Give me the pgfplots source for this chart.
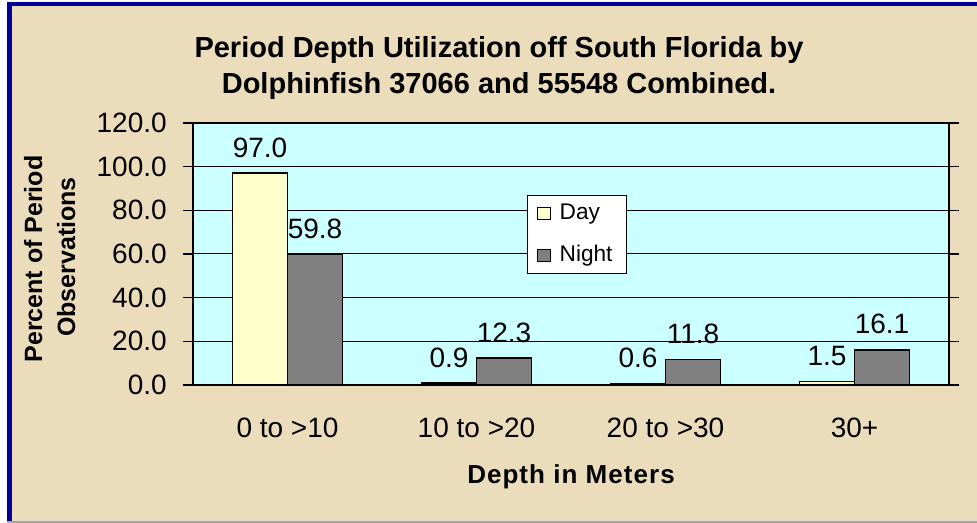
\documentclass[border=0pt]{standalone}
\usepackage{pgfplots}
\pgfplotsset{compat=1.18}
\usepackage{fontspec}
\setmainfont{Liberation Sans}
\definecolor{parch}{RGB}{235,221,187}
\definecolor{frameblue}{RGB}{0,0,150}
\definecolor{plotbg}{RGB}{204,255,255}
\definecolor{dayc}{RGB}{255,255,204}
\definecolor{nightc}{RGB}{128,128,128}
\begin{document}
\begin{tikzpicture}[x=0.75pt,y=-0.75pt]
\fill[white] (0,0) rectangle (977,523);
\fill[parch] (7,2) rectangle (977,521);
\fill[frameblue] (7,2) rectangle (977,6.5);
\fill[frameblue] (7,2) rectangle (11.5,521);
\fill[black!35] (7,520.5) rectangle (977,523);
\node[font=\fontsize{21.75}{26}\selectfont\bfseries, anchor=base] at (499,58) {Period Depth Utilization off South Florida by};
\node[font=\fontsize{21.75}{26}\selectfont\bfseries, anchor=base] at (499,94) {Dolphinfish 37066 and 55548 Combined.};
\node[font=\fontsize{18.75}{22}\selectfont\bfseries, rotate=90, anchor=base] at (42,259) {Percent of Period};
\node[font=\fontsize{18.75}{22}\selectfont\bfseries, rotate=90, anchor=base] at (75,257) {Observations};
\node[font=\fontsize{19.5}{23}\selectfont\bfseries\addfontfeature{LetterSpace=4}, anchor=base] at (571,483) {Depth in Meters};
\begin{axis}[
  at={(144.75pt,-288.75pt)}, anchor=south west,
  scale only axis, width=567pt, height=196.5pt,
  axis background/.style={fill=plotbg},
  axis line style={black, line width=1.1pt},
  ybar=0pt, bar width=41.25pt,
  xmin=-0.5, xmax=3.5, ymin=0, ymax=120,
  xtick={0,1,2,3},
  xticklabels={0 to >10, 10 to >20, 20 to >30, 30+},
  major x tick style={draw=none},
  extra x ticks={-0.5,0.5,1.5,2.5,3.5},
  extra x tick labels={},
  extra x tick style={major tick length=6.75pt, tick style={black, line width=0.9pt}},
  ytick={0,20,40,60,80,100,120},
  tick align=outside,
  major tick length=7.5pt,
  ytick style={black, line width=0.9pt},
  ymajorgrids, major grid style={black, line width=0.75pt},
  /pgf/number format/.cd, fixed, fixed zerofill, precision=1, assume math mode=true,
  /pgfplots/.cd,
  tick label style={font=\fontsize{21}{25}\selectfont},
  xticklabel style={anchor=base, yshift=-32pt},
  yticklabel style={anchor=east, inner sep=0pt, xshift=-12pt},
  nodes near coords,
  every node near coord/.append style={font=\fontsize{21}{25}\selectfont, anchor=base, yshift=12pt, inner sep=0pt, black},
  legend style={at={(axis description cs:0.4418,0.725)}, anchor=north west, draw=black, line width=0.75pt, fill=white,
    font=\fontsize{17}{19}\selectfont, inner xsep=7pt, inner ysep=1.75pt, row sep=8pt,
    nodes={inner xsep=0pt, inner ysep=4pt, text height=12pt, text depth=3.5pt, text width=43pt, align=left},
    /tikz/every odd column/.append style={column sep=7pt}},
  legend cell align=left,
  legend image code/.code={\draw[#1, line width=0.6pt] (0pt,-4.75pt) rectangle (9.5pt,4.75pt);},
]
\addplot[fill=dayc, draw=black, line width=1.1pt] coordinates {(0,97.0) (1,0.9) (2,0.6) (3,1.5)};
\addplot[fill=nightc, draw=black, line width=1.1pt] coordinates {(0,59.8) (1,12.3) (2,11.8) (3,16.1)};
\legend{Day, Night}
\end{axis}
\end{tikzpicture}
\end{document}
